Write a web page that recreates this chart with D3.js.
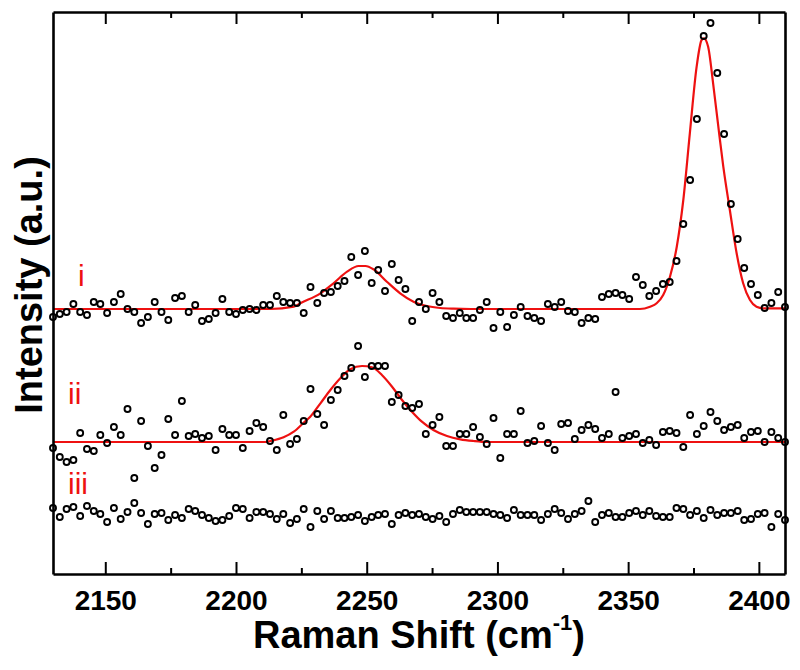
<!DOCTYPE html>
<html>
<head>
<meta charset="utf-8">
<script src="https://cdn.jsdelivr.net/npm/d3@7"></script>
<style>
  html, body { margin: 0; padding: 0; background: #fff; }
  svg { display: block; }
  text { font-family: "Liberation Sans", Arial, sans-serif; }
</style>
</head>
<body>
<svg id="chart" width="800" height="670"></svg>
<script>
// Raman shift grid (cm^-1)
const ramanShift = [
  2130.0,2132.6,2135.2,2137.8,2140.4,2143.0,2145.6,2148.1,2150.7,2153.3,
  2155.9,2158.5,2161.1,2163.7,2166.3,2168.9,2171.5,2174.1,2176.7,2179.3,
  2181.9,2184.4,2187.0,2189.6,2192.2,2194.8,2197.4,2200.0,2202.6,2205.2,
  2207.8,2210.4,2213.0,2215.6,2218.1,2220.7,2223.3,2225.9,2228.5,2231.1,
  2233.7,2236.3,2238.9,2241.5,2244.1,2246.7,2249.3,2251.9,2254.4,2257.0,
  2259.6,2262.2,2264.8,2267.4,2270.0,2272.6,2275.2,2277.8,2280.4,2283.0,
  2285.6,2288.1,2290.7,2293.3,2295.9,2298.5,2301.1,2303.7,2306.3,2308.9,
  2311.5,2314.1,2316.7,2319.3,2321.9,2324.4,2327.0,2329.6,2332.2,2334.8,
  2337.4,2340.0,2342.6,2345.2,2347.8,2350.4,2353.0,2355.6,2358.1,2360.7,
  2363.3,2365.9,2368.5,2371.1,2373.7,2376.3,2378.9,2381.5,2384.1,2386.7,
  2389.3,2391.9,2394.4,2397.0,2399.6,2402.2,2404.8,2407.4,2410.0
];

// Series i (offset, arbitrary units)
const seriesI = [
  257,260,262,270,262,259,272,270,261,272,
  280,265,262,251,257,272,262,254,276,278,
  262,269,253,255,261,275,262,260,264,265,
  264,269,269,278,272,271,271,261,287,271,
  281,282,288,293,317,299,323,291,304,283,
  310,294,285,253,272,265,281,272,258,256,
  261,256,256,264,272,246,262,247,259,267,
  258,256,253,270,267,272,263,262,251,256,
  255,277,280,281,279,275,297,289,278,283,
  290,292,313,350,394,455,538,551,501,440,
  370,335,306,290,279,266,271,282,267
];

// Series ii
const seriesII = [
  126,117,112,114,141,125,123,139,131,147,
  139,165,96,153,128,106,119,155,139,173,
  138,140,136,138,124,145,139,139,126,143,
  151,147,133,124,159,130,135,153,185,160,
  149,174,184,198,206,228,197,208,208,208,
  172,179,168,166,170,140,149,157,128,128,
  140,140,147,137,130,156,116,140,140,163,
  131,133,148,131,124,150,151,135,144,149,
  145,136,140,182,136,138,140,131,134,129,
  142,143,141,127,159,140,148,162,153,144,
  147,149,136,142,143,132,142,136,132
];

// Series iii
const seriesIII = [
  66,57,65,67,58,68,63,60,52,66,
  55,62,71,61,50,60,61,54,59,56,
  65,63,59,56,53,54,58,66,65,56,
  62,62,60,55,60,51,55,65,47,63,
  55,63,56,56,57,59,53,57,59,60,
  50,59,61,59,60,57,55,58,52,60,
  64,62,62,62,62,60,59,56,64,59,
  59,59,54,60,65,61,55,60,63,73,
  52,59,61,57,57,61,63,59,63,58,
  57,57,66,65,59,63,56,64,59,61,
  61,63,54,55,60,61,47,60,54
];

// Fit curves
const fitIx = [2130,2213.1,2222.1,2224.6,2232.3,2237.3,2242.5,2246.9,2249.5,2252.6,2257.7,2262.8,2267.9,2273.0,2278.1,2283.2,2290,2354.5,2358.4,2360.9,2363.4,2366.0,2368.6,2371.1,2373.6,2376.2,2378.1,2379.0,2380.6,2382.5,2384.5,2386.4,2388.9,2391.5,2394.0,2396.6,2399.1,2401.6,2410];
const fitIy = [265,265,267.3,270.7,280.7,290.7,302.3,308,308,304.7,292.3,280.7,272.3,268,266,265.3,265,265,267.3,270.7,279,297.3,327.3,374,440.7,507.3,534,535.7,527.3,490.7,447.3,407.3,364,320.7,290.7,274,267.3,265.7,265.7];

const fitIIx = [2130,2211.2,2213.1,2218.2,2222.1,2225.9,2228.4,2232.3,2236.1,2239.9,2243.7,2248.2,2252.0,2255.8,2259.7,2263.5,2267.3,2271.1,2275.5,2280.7,2285.8,2290.8,2296.0,2410];
const fitIIy = [132,132,133,136.7,142.3,151.3,157.3,170.7,184,195.7,204.7,208,206.7,199,187.3,174,162.3,152.3,144,138,134.7,133,132,132];

const xMajorTicks = [2150,2200,2250,2300,2350,2400];
const xMinorTicks = [2175,2225,2275,2325,2375];
const seriesLabels = ["i","ii","iii"];

const svg = d3.select("#chart");
const mLeft = 53, mRight = 785, mTop = 12, mBottom = 574;

const x = d3.scaleLinear().domain([2130, 2410]).range([mLeft, mRight]);
const y = d3.scaleLinear().domain([0, 562]).range([mBottom, mTop]);

const red = "#ee1111";

// fit lines
const line = d3.line().x(d => x(d[0])).y(d => y(d[1])).curve(d3.curveMonotoneX);
svg.append("path").datum(d3.zip(fitIx, fitIy)).attr("d", line)
  .attr("fill", "none").attr("stroke", red).attr("stroke-width", 2.2);
svg.append("path").datum(d3.zip(fitIIx, fitIIy)).attr("d", line)
  .attr("fill", "none").attr("stroke", red).attr("stroke-width", 2.2);

// points
[seriesI, seriesII, seriesIII].forEach(s => {
  svg.append("g").selectAll("circle").data(d3.zip(ramanShift, s)).join("circle")
    .attr("cx", d => x(d[0])).attr("cy", d => y(d[1])).attr("r", 3)
    .attr("fill", "none").attr("stroke", "#000").attr("stroke-width", 1.9);
});

// axes
const axisStyle = g => {
  g.select(".domain").attr("stroke", "#000").attr("stroke-width", 2.6);
  g.selectAll(".tick line").attr("stroke", "#000").attr("stroke-width", 2);
};

const bottomAxis = svg.append("g").attr("transform", `translate(0,${mBottom})`)
  .call(d3.axisBottom(x).tickValues(xMajorTicks).tickSizeInner(-12).tickSizeOuter(0).tickPadding(16).tickFormat(d3.format("d")))
  .call(axisStyle);
bottomAxis.selectAll("text").attr("font-size", 28).attr("font-weight", "bold").attr("fill", "#000")
  .attr("font-family", "'Liberation Sans', Arial, sans-serif");
svg.append("g").attr("transform", `translate(0,${mBottom})`)
  .call(d3.axisBottom(x).tickValues(xMinorTicks).tickSizeInner(-6).tickSizeOuter(0).tickFormat(""))
  .call(axisStyle).select(".domain").remove();

svg.append("g").attr("transform", `translate(0,${mTop})`)
  .call(d3.axisTop(x).tickValues(xMajorTicks).tickSizeInner(-12).tickSizeOuter(0).tickFormat(""))
  .call(axisStyle);
svg.append("g").attr("transform", `translate(0,${mTop})`)
  .call(d3.axisTop(x).tickValues(xMinorTicks).tickSizeInner(-6).tickSizeOuter(0).tickFormat(""))
  .call(axisStyle).select(".domain").remove();

svg.append("g").attr("transform", `translate(${mLeft},0)`)
  .call(d3.axisLeft(y).tickValues([]).tickSizeOuter(0)).call(axisStyle);
svg.append("g").attr("transform", `translate(${mRight},0)`)
  .call(d3.axisRight(y).tickValues([]).tickSizeOuter(0)).call(axisStyle);

// titles
const xt = svg.append("text").attr("x", (mLeft + mRight) / 2).attr("y", 648)
  .attr("text-anchor", "middle").attr("font-size", 38).attr("font-weight", "bold").attr("fill", "#000");
xt.append("tspan").text("Raman Shift (cm");
xt.append("tspan").attr("font-size", 22).attr("dy", -18).text("-1");
xt.append("tspan").attr("dy", 18).text(")");

svg.append("text").attr("transform", "translate(42,285) rotate(-90)")
  .attr("text-anchor", "middle").attr("font-size", 38).attr("font-weight", "bold").attr("fill", "#000")
  .text("Intensity (a.u.)");

// series labels
const labelPos = [[78, 286], [68, 404], [68, 494]];
seriesLabels.forEach((t, i) => {
  svg.append("text").attr("x", labelPos[i][0]).attr("y", labelPos[i][1])
    .attr("font-size", 30).attr("fill", red).text(t);
});
</script>
</body>
</html>
